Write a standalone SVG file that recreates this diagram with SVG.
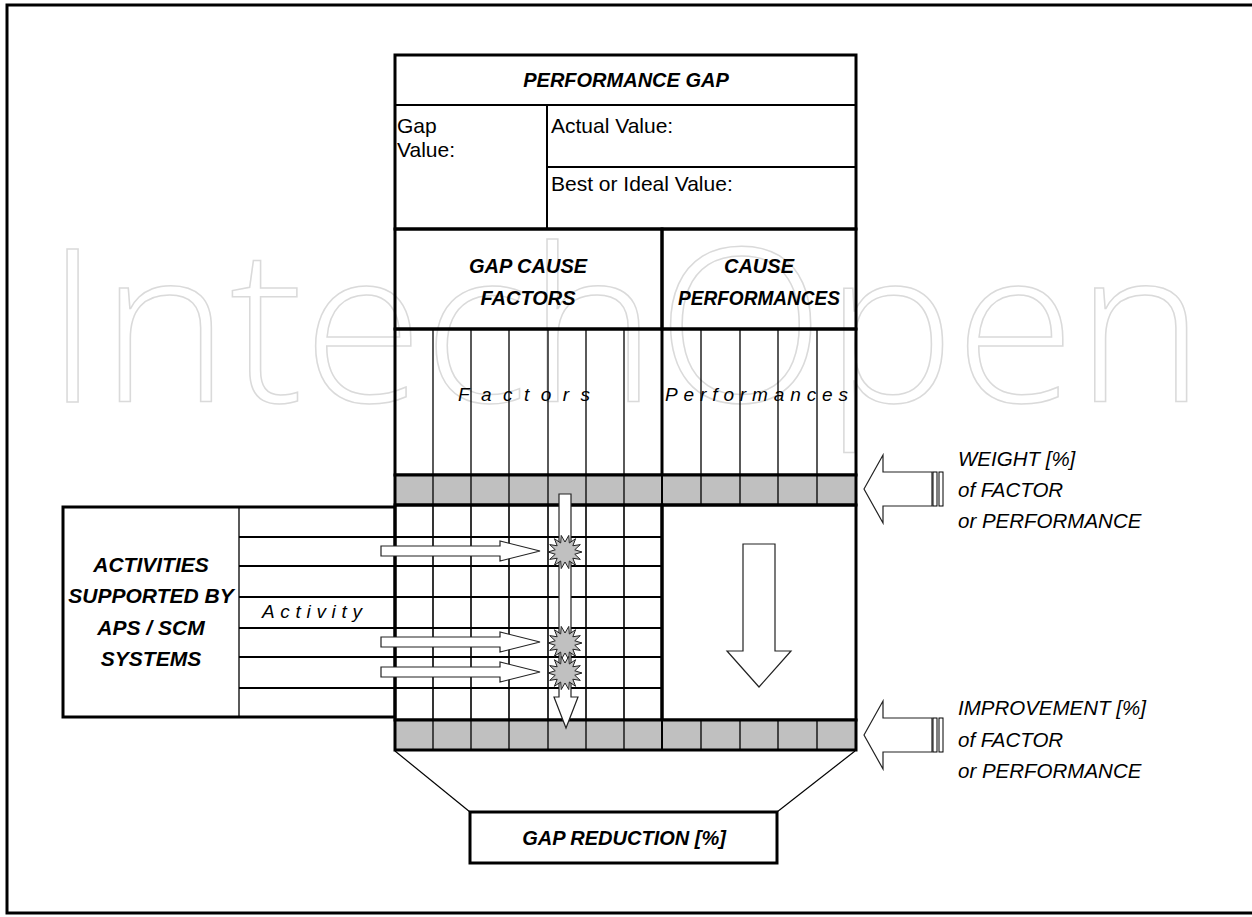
<svg xmlns="http://www.w3.org/2000/svg" width="1252" height="917" viewBox="0 0 1252 917">
<defs>
<style>
.b3{stroke:#000;stroke-width:3;fill:none}
.b2{stroke:#000;stroke-width:2;fill:none}
.b1{stroke:#000;stroke-width:1.3;fill:none}
.gray{fill:#c0c0c0}
.blk{fill:#fff;stroke:#222;stroke-width:1.2}
.hdr{font-family:"Liberation Sans",Arial,sans-serif;font-weight:bold;font-style:italic;font-size:20px;text-anchor:middle;fill:#000}
.act{font-size:21px}
.txt{font-family:"Liberation Sans",Arial,sans-serif;font-size:21px;fill:#000}
.lbl{font-family:"Liberation Sans",Arial,sans-serif;font-style:italic;font-size:20.5px;fill:#000}
.sp{font-family:"Liberation Sans",Arial,sans-serif;font-style:italic;font-size:19px;fill:#000}
.wm{font-family:"Open Sans",sans-serif;font-weight:300;font-size:215px;fill:none;stroke:#dadada;stroke-width:1.5}
</style>
<polygon id="star" class="gray" stroke="#222" stroke-width="1" points="17,0 9.75,2.23 15.32,7.38 7.82,6.24 10.6,13.29 4.34,9.01 3.78,16.57 0,10 -3.78,16.57 -4.34,9.01 -10.6,13.29 -7.82,6.24 -15.32,7.38 -9.75,2.23 -17,0 -9.75,-2.23 -15.32,-7.38 -7.82,-6.24 -10.6,-13.29 -4.34,-9.01 -3.78,-16.57 0,-10 3.78,-16.57 4.34,-9.01 10.6,-13.29 7.82,-6.24 15.32,-7.38 9.75,-2.23"/>
<g id="hbar">
<rect x="0" y="0" width="4" height="34" fill="#fff" stroke="#000" stroke-width="1"/>
<rect x="6" y="0" width="4" height="34" fill="#fff" stroke="#000" stroke-width="1"/>
</g>
</defs>
<rect x="0" y="0" width="1252" height="917" fill="#fff"/>
<text class="wm" x="45" y="402" textLength="1160" lengthAdjust="spacingAndGlyphs">IntechOpen</text>
<rect x="7" y="5" width="1260" height="908" fill="none" stroke="#000" stroke-width="3"/>

<g id="performance-gap">
<rect x="395" y="55" width="461" height="174" class="b3"/>
<line x1="395" y1="105" x2="856" y2="105" class="b2"/>
<line x1="547" y1="105" x2="547" y2="229" class="b2"/>
<line x1="547" y1="167" x2="856" y2="167" class="b2"/>
<text class="hdr" x="626" y="87">PERFORMANCE GAP</text>
<text class="txt" x="397" y="133">Gap</text>
<text class="txt" x="397" y="157">Value:</text>
<text class="txt" x="551" y="133">Actual Value:</text>
<text class="txt" x="551" y="191">Best or Ideal Value:</text>
</g>

<g id="gap-cause-factors">
<rect x="395" y="229" width="267" height="100" class="b3"/>
<text class="hdr" x="528" y="273">GAP CAUSE</text>
<text class="hdr" x="528" y="305">FACTORS</text>
</g>
<g id="cause-performances">
<rect x="662" y="229" width="194" height="100" class="b3"/>
<text class="hdr" x="759" y="273">CAUSE</text>
<text class="hdr" x="759" y="305" textLength="162" lengthAdjust="spacingAndGlyphs">PERFORMANCES</text>
</g>

<g id="columns">
<rect x="395" y="329" width="461" height="146" class="b3"/>
<line x1="662" y1="329" x2="662" y2="475" class="b3"/>
<g class="b1">
<line x1="433" y1="329" x2="433" y2="475"/>
<line x1="471" y1="329" x2="471" y2="475"/>
<line x1="509" y1="329" x2="509" y2="475"/>
<line x1="548" y1="329" x2="548" y2="475"/>
<line x1="586" y1="329" x2="586" y2="475"/>
<line x1="624" y1="329" x2="624" y2="475"/>
<line x1="701" y1="329" x2="701" y2="475"/>
<line x1="740" y1="329" x2="740" y2="475"/>
<line x1="778" y1="329" x2="778" y2="475"/>
<line x1="817" y1="329" x2="817" y2="475"/>
</g>
<text class="sp" x="458" y="401" textLength="132" lengthAdjust="spacing">Factors</text>
<text class="sp" x="665" y="401" textLength="183" lengthAdjust="spacing">Performances</text>
</g>

<g id="weight-row">
<rect x="395" y="475" width="461" height="30" class="gray"/>
<g class="b1">
<line x1="433" y1="475" x2="433" y2="505"/>
<line x1="471" y1="475" x2="471" y2="505"/>
<line x1="509" y1="475" x2="509" y2="505"/>
<line x1="548" y1="475" x2="548" y2="505"/>
<line x1="586" y1="475" x2="586" y2="505"/>
<line x1="624" y1="475" x2="624" y2="505"/>
<line x1="701" y1="475" x2="701" y2="505"/>
<line x1="740" y1="475" x2="740" y2="505"/>
<line x1="778" y1="475" x2="778" y2="505"/>
<line x1="817" y1="475" x2="817" y2="505"/>
</g>
<line x1="662" y1="475" x2="662" y2="505" class="b2"/>
<rect x="395" y="475" width="461" height="30" class="b3"/>
</g>

<g id="activities">
<rect x="63" y="507" width="332" height="210" class="b3"/>
<line x1="239" y1="507" x2="239" y2="717" class="b1"/>
<text class="hdr act" x="151" y="572">ACTIVITIES</text>
<text class="hdr act" x="151" y="603">SUPPORTED BY</text>
<text class="hdr act" x="151" y="635">APS / SCM</text>
<text class="hdr act" x="151" y="666">SYSTEMS</text>
<text class="sp" x="262" y="618" textLength="100" lengthAdjust="spacing">Activity</text>
</g>

<g id="matrix">
<g class="b2">
<line x1="239" y1="537" x2="662" y2="537"/>
<line x1="239" y1="566" x2="662" y2="566"/>
<line x1="239" y1="597" x2="662" y2="597"/>
<line x1="239" y1="628" x2="662" y2="628"/>
<line x1="239" y1="657" x2="662" y2="657"/>
<line x1="239" y1="688" x2="662" y2="688"/>
</g>
<g stroke="#000" stroke-width="1.6">
<line x1="433" y1="505" x2="433" y2="720"/>
<line x1="471" y1="505" x2="471" y2="720"/>
<line x1="509" y1="505" x2="509" y2="720"/>
<line x1="548" y1="505" x2="548" y2="720"/>
<line x1="586" y1="505" x2="586" y2="720"/>
<line x1="624" y1="505" x2="624" y2="720"/>
</g>
<rect x="395" y="505" width="267" height="215" class="b3"/>
</g>

<g id="performance-area">
<rect x="662" y="505" width="194" height="215" class="b3"/>
<path class="blk" d="M743,544 H775 V651 H791 L759,687 L727,651 H743 Z"/>
</g>

<g id="improvement-row">
<rect x="395" y="720" width="461" height="30" class="gray"/>
<g class="b1">
<line x1="433" y1="720" x2="433" y2="750"/>
<line x1="471" y1="720" x2="471" y2="750"/>
<line x1="509" y1="720" x2="509" y2="750"/>
<line x1="548" y1="720" x2="548" y2="750"/>
<line x1="586" y1="720" x2="586" y2="750"/>
<line x1="624" y1="720" x2="624" y2="750"/>
<line x1="701" y1="720" x2="701" y2="750"/>
<line x1="740" y1="720" x2="740" y2="750"/>
<line x1="778" y1="720" x2="778" y2="750"/>
<line x1="817" y1="720" x2="817" y2="750"/>
</g>
<line x1="662" y1="720" x2="662" y2="750" class="b2"/>
<rect x="395" y="720" width="461" height="30" class="b3"/>
</g>

<g id="connectors">
<path class="blk" d="M381,546 H500 V541 L540,551 L500,561 V556 H381 Z"/>
<path class="blk" d="M381,637 H500 V632 L540,642 L500,652 V647 H381 Z"/>
<path class="blk" d="M381,667 H500 V662 L540,672 L500,682 V677 H381 Z"/>
<path class="blk" d="M559,494 H571 V697 H578 L566,728 L554,697 H559 Z"/>
<use href="#star" x="565" y="552"/>
<use href="#star" x="565" y="643"/>
<use href="#star" x="565" y="673"/>
<line x1="395" y1="751" x2="470" y2="812" stroke="#000" stroke-width="1.2"/>
<line x1="855" y1="751" x2="777" y2="812" stroke="#000" stroke-width="1.2"/>
</g>

<g id="weight-arrow">
<path class="blk" d="M864,489 L883,455 V472 H932 V506 H883 V523 Z"/>
<use href="#hbar" x="933" y="472"/>
<text class="lbl" x="958" y="466">WEIGHT [%]</text>
<text class="lbl" x="958" y="497">of FACTOR</text>
<text class="lbl" x="958" y="528">or PERFORMANCE</text>
</g>

<g id="improvement-arrow">
<path class="blk" d="M864,735 L883,701 V718 H932 V752 H883 V769 Z"/>
<use href="#hbar" x="933" y="718"/>
<text class="lbl" x="958" y="715">IMPROVEMENT [%]</text>
<text class="lbl" x="958" y="747">of FACTOR</text>
<text class="lbl" x="958" y="778">or PERFORMANCE</text>
</g>

<g id="gap-reduction">
<rect x="470" y="812" width="307" height="51" fill="#fff" class="b3"/>
<text class="hdr" x="624" y="845">GAP REDUCTION [%]</text>
</g>
</svg>
